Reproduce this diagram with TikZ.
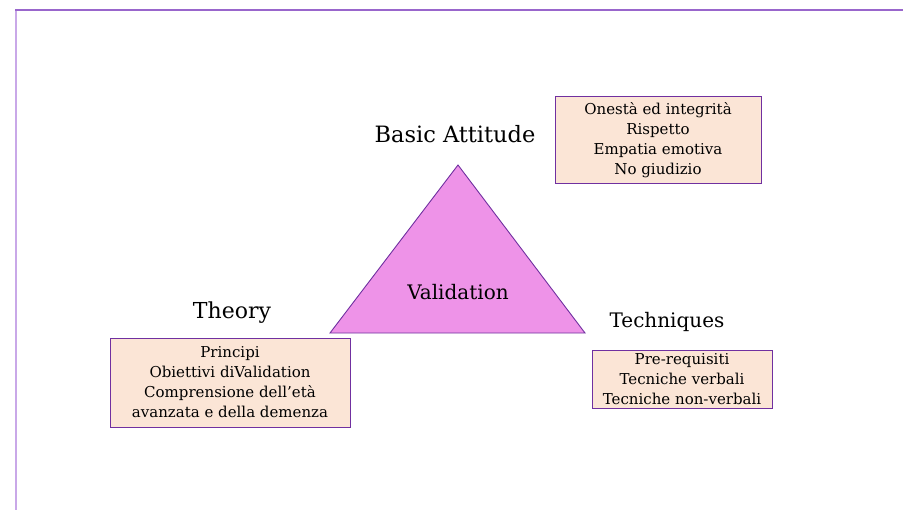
\documentclass[tikz,border=0pt]{standalone}
\usepackage{fontspec}
\setmainfont{DejaVu Serif}
\definecolor{framepurple}{HTML}{9966CC}
\definecolor{framelight}{HTML}{C9A8E8}
\definecolor{edgepurple}{HTML}{7030A0}
\definecolor{trifill}{HTML}{EE93E8}
\definecolor{boxfill}{HTML}{FBE5D6}
\tikzset{
  infobox/.style={draw=edgepurple, line width=1pt, fill=boxfill, align=center, inner sep=0pt, font=\fontsize{15}{20}\selectfont},
  title/.style={inner sep=0pt},
}
\begin{document}
\begin{tikzpicture}[x=1pt,y=-1pt]
\useasboundingbox (0,0) rectangle (904,510);
% frame lines
\draw[framepurple, line width=1.5pt] (15,10) -- (903,10);
\draw[framelight, line width=2pt] (16,11) -- (16,510);
% triangle
\coordinate (apex) at (458,165);
\coordinate (bl) at (330,333);
\coordinate (br) at (585,333);
\draw[edgepurple, line width=0.9pt, fill=trifill, line join=miter] (apex) -- (br) -- (bl) -- cycle;
\node[font=\fontsize{20}{22}\selectfont, inner sep=0pt] (val) at (458,292) {Validation};
% titles
\node[title, font=\fontsize{22.5}{24}\selectfont] (basic) at (455,134) {Basic Attitude};
\node[title, font=\fontsize{22}{24}\selectfont] (theory) at (232,313) {Theory};
\node[title, font=\fontsize{20}{24}\selectfont] (tech) at (667,322) {Techniques};
% boxes
\node[infobox, minimum width=206pt, minimum height=87pt] (att) at (658,140.5)
  {Onestà ed integrità\\Rispetto\\Empatia emotiva\\No giudizio};
\node[infobox, minimum width=240pt, minimum height=89pt] (thbox) at (230,382.5)
  {Principi\\Obiettivi diValidation\\Comprensione dell’età\\avanzata e della demenza};
\node[infobox, minimum width=180pt, minimum height=58pt] (tebox) at (682,379)
  {Pre-requisiti\\Tecniche verbali\\Tecniche non-verbali};
\end{tikzpicture}
\end{document}
